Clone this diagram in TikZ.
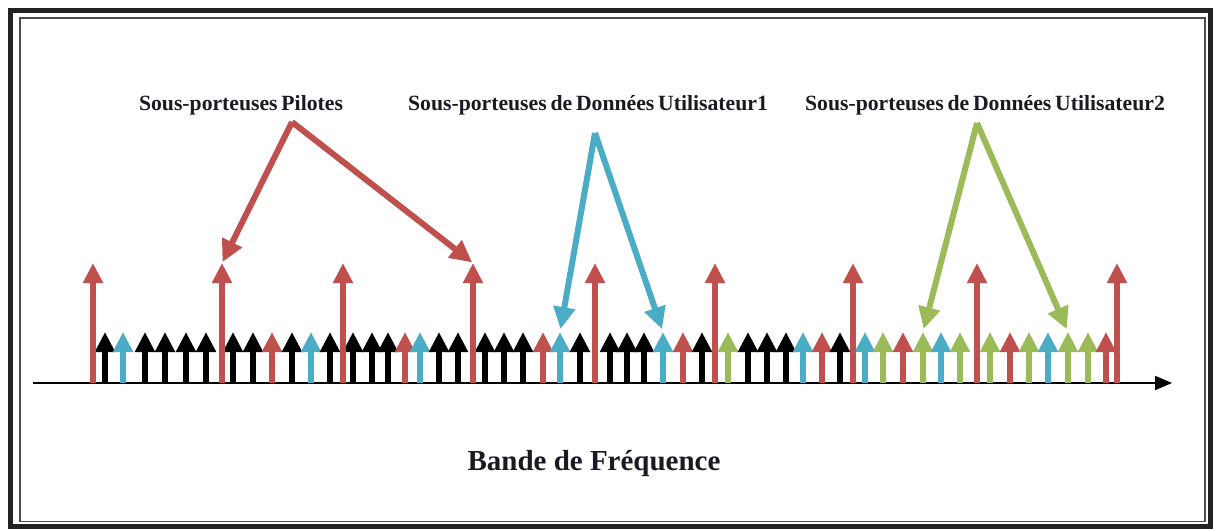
\documentclass[tikz,border=0pt]{standalone}
\usepackage{fontspec}
\setmainfont{Liberation Serif}
\newfontfamily\labelfont[WordSpace=0.7]{Liberation Serif}
\usetikzlibrary{arrows.meta}
\definecolor{pilot}{HTML}{C0504D}
\definecolor{userA}{HTML}{4BACC6}
\definecolor{userB}{HTML}{9BBB59}
\definecolor{frameDark}{HTML}{222222}
\definecolor{ink}{HTML}{1A1A24}
\begin{document}
\begin{tikzpicture}[x=1pt,y=-1pt,
  stem/.style={line width=5.5pt,-{Triangle[length=20pt,width=19pt]}},
  pointer/.style={line width=6pt,-{Triangle[length=22pt,width=21pt]},shorten >=3pt},
  toplabel/.style={anchor=base,inner sep=0pt,text=ink,font=\labelfont\bfseries\fontsize{21.7}{26}\selectfont},
  axislabel/.style={anchor=base,inner sep=0pt,text=ink,font=\bfseries\fontsize{29}{34}\selectfont}]
\useasboundingbox (0,0) rectangle (1213,528);
\fill[white] (0,0) rectangle (1213,528);

% double frame
\draw[frameDark,line width=5pt] (10.5,10.5) rectangle (1210,526);
\draw[black!70,line width=1.5pt] (20,18) rectangle (1205,521.7);

% frequency axis
\coordinate (axL) at (33,383);
\coordinate (axR) at (1172,383);
\draw[line width=2pt,-{Triangle[length=17pt,width=14pt]}] (axL) -- (axR);

% short sub-carriers (data and pilots)
\foreach \x/\c [count=\i] in {105/black,123/userA,145/black,165/black,186/black,206/black,
  233/black,253/black,272/pilot,292/black,311/userA,330/black,353/black,372/black,388/black,
  405/pilot,420/userA,439/black,458/black,485/black,504/black,523/black,543/pilot,560/userA,
  580/black,610/black,627/black,644/black,663/userA,683/pilot,702/black,728/userB,748/black,
  767/black,786/black,803/userA,822/pilot,840/black,865/userA,883/userB,903/pilot,923/userB,
  941/userA,960/userB,990/userB,1010/pilot,1029/userB,1048/userA,1068/userB,1088/userB,1106/pilot}{
  \coordinate (b\i) at (\x,383);
  \coordinate (s\i) at (\x,332);
  \draw[stem,\c] (b\i) -- (s\i);
}

% tall pilot sub-carriers
\foreach \x [count=\i] in {93,222,343,473,595,715,853,977,1117}{
  \coordinate (tb\i) at (\x,383);
  \coordinate (t\i) at (\x,263);
  \draw[stem,pilot] (tb\i) -- (t\i);
}

% labels
\node[toplabel] (lp) at (241,110) {Sous-porteuses Pilotes};
\node[toplabel] (lu1) at (588,110) {Sous-porteuses de Données Utilisateur1};
\node[toplabel] (lu2) at (985,110) {Sous-porteuses de Données Utilisateur2};
\node[axislabel] (lb) at (594,470) {Bande de Fréquence};

% pointer apexes
\coordinate (ap) at (292,122);
\coordinate (au1) at (595,133);
\coordinate (au2) at (977,123);

\draw[pointer,pilot,shorten >=1pt] (ap) -- (t2);
\draw[pointer,pilot,shorten >=1pt] (ap) -- (t4);
\draw[pointer,userA] (au1) -- (s24);
\draw[pointer,userA] (au1) -- (s29);
\draw[pointer,userB] (au2) -- (s42);
\draw[pointer,userB] (au2) -- (s49);
\end{tikzpicture}
\end{document}
